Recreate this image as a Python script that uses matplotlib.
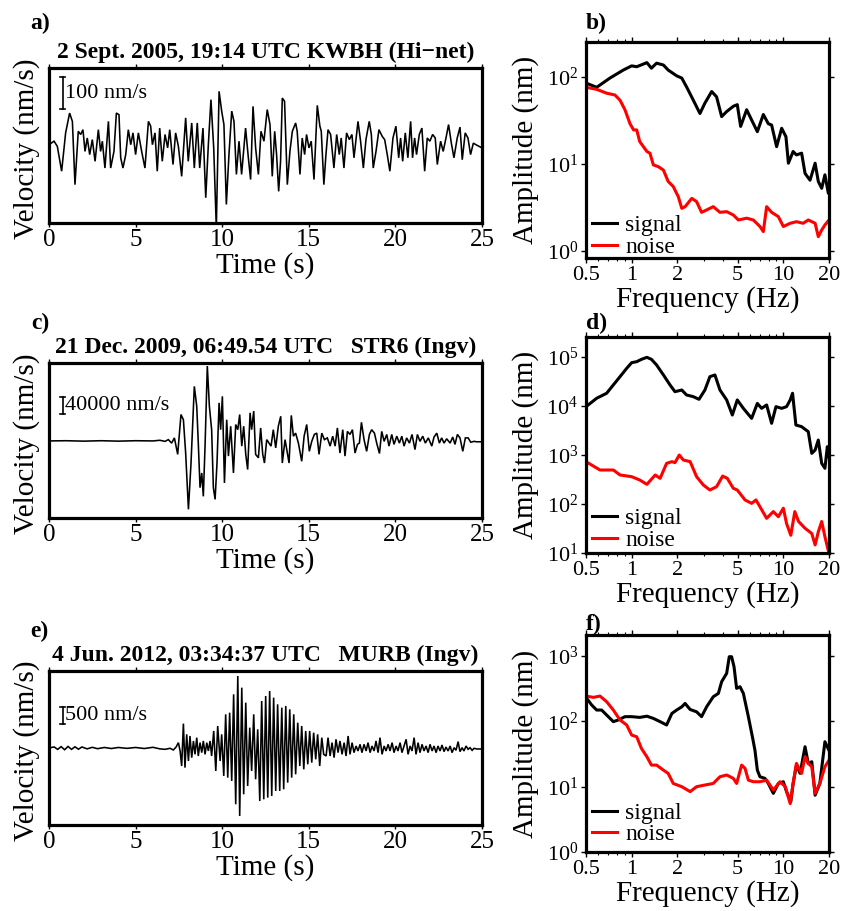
import numpy as np
import matplotlib
matplotlib.use('Agg')
import matplotlib.pyplot as plt
import matplotlib.transforms as mtransforms
from matplotlib.ticker import FixedLocator, FixedFormatter, NullLocator, NullFormatter

plt.rcParams['font.family'] = ['Liberation Serif', 'DejaVu Serif']
plt.rcParams['mathtext.fontset'] = 'custom'
plt.rcParams['mathtext.rm'] = 'Liberation Serif'
plt.rcParams['mathtext.it'] = 'Liberation Serif:italic'
plt.rcParams['mathtext.bf'] = 'Liberation Serif:bold'

# ---------------- seismograms (time s, velocity nm/s) ----------------
a_time = [0.00, 0.29, 0.48, 0.73, 0.96, 1.19, 1.35, 1.50, 1.69, 1.83,
          1.96, 2.08, 2.21, 2.35, 2.50, 2.66, 2.85, 2.98, 3.08, 3.23,
          3.43, 3.56, 3.75, 3.89, 4.04, 4.14, 4.27, 4.43, 4.58, 4.72,
          4.85, 5.00, 5.16, 5.35, 5.54, 5.74, 5.87, 5.97, 6.12, 6.25,
          6.39, 6.54, 6.70, 6.85, 6.97, 7.16, 7.31, 7.47, 7.66, 7.89,
          8.04, 8.24, 8.39, 8.56, 8.70, 8.89, 9.05, 9.20, 9.35, 9.51,
          9.66, 9.82, 9.97, 10.10, 10.24, 10.39, 10.55, 10.68, 10.82, 10.97,
          11.12, 11.35, 11.51, 11.64, 11.78, 11.93, 12.09, 12.24,
          12.41, 12.60, 12.76, 12.89, 13.03, 13.14, 13.26, 13.37, 13.47, 13.60,
          13.76, 13.91, 14.05, 14.24, 14.33, 14.49, 14.62, 14.76, 14.87, 15.01,
          15.14, 15.30, 15.49, 15.64, 15.72, 15.87, 15.99, 16.11, 16.26, 16.45,
          16.61, 16.76, 16.87, 17.03, 17.18, 17.34, 17.49, 17.61, 17.84, 17.99,
          18.15, 18.30, 18.49, 18.61, 18.72, 18.88, 19.05, 19.24, 19.38, 19.53,
          19.68, 19.86, 20.03, 20.19, 20.30, 20.42, 20.57, 20.72, 20.88, 20.99,
          21.11, 21.22, 21.38, 21.53, 21.69, 21.84, 21.99, 22.15, 22.30, 22.42,
          22.61, 22.76, 22.92, 23.07, 23.23, 23.38, 23.57, 23.73, 23.86, 24.03,
          24.19, 24.34, 24.50, 24.65, 24.82, 25.00]
a_vel = [1, 12, -4, -82, 38, 100, 74, -124, 43, 33,
         48, -20, 22, -30, 17, -51, 48, -20, 12, -72,
         74, -72, -20, 100, 95, -40, -72, -30, 48, 1,
         38, -30, 38, -20, -72, 74, 59, 1, 38, -82,
         53, -51, 33, -9, 48, -61, 38, -4, -98, 85,
         -51, 69, -72, 69, -72, 53, -165, 1, 142, -9,
         -260, 168, 106, 64, -186, -30, 106, 74, -92, 12,
         -92, 53, -40, -108, 121, -9, -92, 43,
         12, 111, 64, -98, 43, -30, -145, -51, 147, 137,
         -124, -20, 43, 69, 43, -92, 22, -30, 33, -9,
         12, -108, 124, 59, 43, -124, -30, 48, 33, -72,
         33, -30, 22, -72, 38, 17, 33, -40, 74, 12,
         -72, 17, 74, 33, -72, -20, 48, 27, 17, -30,
         -82, 22, 59, -40, 22, -51, 38, -40, 74, -40,
         22, -30, 33, 53, -82, 22, 12, 33, 22, -61,
         12, -20, 22, 64, 6, -40, 22, 56, -46, 38,
         22, -30, 6, 1, -4, -9]

c_time = [0.0, 1.0, 2.0, 3.0, 4.0, 5.0, 6.0, 6.4,
          6.70, 6.89, 7.08, 7.24, 7.43, 7.62, 7.76, 7.89, 8.05, 8.20,
          8.39, 8.53, 8.62, 8.72, 8.82, 8.91, 9.01, 9.14, 9.26, 9.39,
          9.49, 9.59, 9.70, 9.82, 9.91, 10.01, 10.13, 10.26, 10.36, 10.49,
          10.65, 10.78, 10.90, 11.01, 11.13, 11.24, 11.36, 11.47, 11.61, 11.70,
          11.82, 11.93, 12.09, 12.22, 12.34, 12.44, 12.57, 12.70, 12.82, 12.95,
          13.09, 13.24, 13.38, 13.47, 13.63, 13.76, 13.86, 13.99, 14.11, 14.24,
          14.40, 14.59, 14.73, 14.88, 15.03, 15.17, 15.32, 15.46, 15.59, 15.75,
          15.90, 16.07, 16.23, 16.38, 16.52, 16.65, 16.80, 16.96, 17.09, 17.23,
          17.38, 17.52, 17.67, 17.81, 17.92, 18.04, 18.19, 18.34, 18.50, 18.63,
          18.79, 18.92, 19.08, 19.21, 19.35, 19.50, 19.63, 19.79, 19.92, 20.08,
          20.23, 20.37, 20.50, 20.65, 20.81, 20.96, 21.13, 21.27, 21.42, 21.58,
          21.73, 21.90, 22.10, 22.23, 22.39, 22.54, 22.67, 22.81, 22.96, 23.16,
          23.31, 23.44, 23.58, 23.73, 23.89, 24.04, 24.20, 24.35, 24.54, 24.70,
          25.00]
c_vel_k = [0, 0.5, -0.5, 0.5, -0.5, 0.5, 0, 1.5,
           -1, 3, -5, 7, -31, 61, 49, -28, -158, -51,
           126, 80, -5, -108, -74, -128, -12, 173, 80, 26,
           -108, -135, -51, 88, 26, 103, -97, 49, -35, 34,
           -74, 38, 26, 61, -12, 34, -31, -66, 65, 26,
           69, -31, -39, 30, -31, -51, 3, -5, -12, 26,
           -16, 34, 57, -51, 3, -28, -51, 59, 11, 18,
           -5, -47, 11, 38, -24, -1, 15, 18, -31, 18,
           3, 7, -12, 11, -12, 30, -28, 26, -35, 22,
           15, 26, -28, -8, -5, 43, 3, -24, 15, 26,
           18, -5, -29, 22, -1, 15, -12, 15, -8, 11,
           -5, 11, -12, 7, -5, 15, -20, 15, -1, 11,
           -5, 7, -12, 9, 18, -5, 7, -5, 5, -5,
           9, -8, 15, 7, -24, 7, 7, -3, -1, -2,
           -2]
c_vel = [v * 1000.0 for v in c_vel_k]

e_time = [0.0, 0.3, 0.5, 0.7, 0.9, 1.1, 1.3, 1.5, 1.7, 1.9,
          2.2, 2.5, 2.8, 3.2, 3.6, 4.0, 4.5, 5.0, 5.5, 6.0, 6.4,
          6.70, 6.99, 7.18, 7.34, 7.47, 7.57, 7.66, 7.76, 7.85, 7.95,
          8.05, 8.14, 8.24, 8.34, 8.43, 8.53, 8.62, 8.72, 8.82, 8.91,
          9.01, 9.11, 9.20, 9.30, 9.39, 9.51, 9.63, 9.74, 9.88, 9.97,
          10.09, 10.20, 10.32, 10.43, 10.55, 10.66, 10.78, 10.90, 11.01, 11.13,
          11.24, 11.36, 11.47, 11.59, 11.70, 11.82, 11.93, 12.05, 12.17, 12.28,
          12.40, 12.51, 12.63, 12.74, 12.86, 12.97, 13.09, 13.20, 13.32, 13.44,
          13.55, 13.67, 13.78, 13.90, 14.01, 14.13, 14.24, 14.36, 14.48, 14.59,
          14.71, 14.82, 14.94, 15.05, 15.17, 15.28, 15.40, 15.51, 15.63, 15.75,
          15.86, 16.00, 16.11, 16.23, 16.34, 16.46, 16.57, 16.69, 16.80, 16.92,
          17.04, 17.15, 17.27, 17.38, 17.50, 17.61, 17.73, 17.84, 17.96, 18.07,
          18.19, 18.31, 18.42, 18.54, 18.65, 18.77, 18.88, 19.00, 19.11, 19.23,
          19.35, 19.46, 19.58, 19.69, 19.81, 19.92, 20.04, 20.15, 20.27, 20.38,
          20.50, 20.62, 20.73, 20.85, 20.96, 21.08, 21.19, 21.31, 21.42, 21.54,
          21.65, 21.77, 21.89, 22.00, 22.12, 22.23, 22.35, 22.46, 22.58, 22.69,
          22.81, 22.92, 23.04, 23.16, 23.27, 23.39, 23.50, 23.62, 23.73, 23.85,
          23.96, 24.08, 24.20, 24.31, 24.43, 24.54, 24.70, 25.00]
e_vel = [0, 30, -40, 40, -50, 45, -40, 35, -35, 30,
         -25, 20, -20, 15, -15, 15, -10, 15, -15, 20, -25,
         -38, -9, -57, 29, 155, -86, -520, 704, -568, 395,
         -375, 347, -279, 203, -183, 299, -231, 155, -134, 203,
         -183, 155, -86, 203, -231, 492, -664, 636, -375, 395,
         -808, 973, -857, 1021, -953, 1551, -1627, 2081, -1964, 1744,
         -1338, 1310, -1097, 588, -664, 973, -905, 540, -1531, 1358,
         -1483, 1503, -1434, 1647, -1386, 1455, -1242, 1262, -1242, 1166,
         -1194, 1214, -1001, 1118, -857, 973, -760, 732, -520, 636,
         -616, 492, -471, 492, -423, 443, -327, 395, -520, 299,
         -183, -231, 299, -231, 155, -279, 251, -134, 203, -183,
         155, -231, 347, -183, 155, -134, 58, -86, 106, -134,
         106, -86, 155, -134, 58, -86, 203, -134, 299, -183,
         58, -86, 106, -86, 155, -134, 58, -86, 155, -134,
         58, 251, -183, 58, -86, 299, -183, 155, -134, 106,
         -86, 58, -134, 106, -86, 58, -134, 58, -86, 87,
         -105, 29, -86, 58, -134, 10, -67, 183, -105, 10,
         -86, 58, -38, 10, -67, -9, -28, -28]

seis_titles = ["2 Sept. 2005, 19:14 UTC KWBH (Hi\u2212net)",
               "21 Dec. 2009, 06:49.54 UTC   STR6 (Ingv)",
               "4 Jun. 2012, 03:34:37 UTC   MURB (Ingv)"]
scale_values = [100, 40000, 500]
scale_labels = ["100 nm/s", "40000 nm/s", "500 nm/s"]
seis_ylims = [(-244, 241), (-178000, 180000), (-2225, 2225)]
time_ticks = [0, 5, 10, 15, 20, 25]

# ---------------- spectra (frequency Hz, amplitude nm) ----------------
b_sig_f = [0.500, 0.588, 0.719, 0.881, 1.00, 1.08, 1.26, 1.35, 1.46, 1.62,
           1.74, 1.98, 2.14, 2.30, 2.55, 2.82, 3.04, 3.37, 3.63, 3.92,
           4.23, 4.68, 4.97, 5.23, 5.73, 6.18, 6.74, 7.38, 7.96, 8.37,
           9.03, 9.75, 10.4, 10.8, 11.6, 12.2, 13.2, 13.9, 15.0, 16.2,
           17.0, 17.9, 18.8, 19.8, 20.0]
b_sig_a = [85, 76, 97, 120, 134, 131, 146, 126, 144, 137,
           120, 103, 97, 77, 54, 38, 50, 68, 59, 35,
           40, 46, 48, 27, 42, 32, 23.5, 37, 29, 28,
           15.8, 25.7, 20.6, 10.2, 13.9, 12.7, 13.3, 7.8, 6.5, 10.2,
           6.3, 5.25, 7.5, 4.6, 5.0]
b_noi_f = [0.500, 0.588, 0.684, 0.776, 0.838, 0.903, 0.975, 1.03, 1.08, 1.13,
           1.26, 1.32, 1.39, 1.50, 1.62, 1.74, 1.88, 2.03, 2.14, 2.25,
           2.49, 2.68, 2.89, 3.12, 3.45, 3.82, 4.23, 4.68, 5.05, 5.73,
           6.34, 7.01, 7.38, 7.76, 8.37, 9.27, 10.0, 11.1, 12.2, 13.5,
           14.6, 16.2, 17.0, 17.9, 18.8, 20.0]
b_noi_a = [76, 72, 65, 62, 54, 42, 29, 24.6, 24.6, 18.1,
           13.9, 13.3, 9.75, 9.3, 8.5, 6.3, 5.5, 4.2, 3.09, 3.23,
           4.02, 3.69, 2.78, 2.96, 3.23, 2.78, 2.83, 2.59, 2.27, 2.38,
           2.27, 1.91, 1.67, 3.23, 2.78, 2.48, 1.91, 2.08, 2.17, 2.08,
           2.27, 2.08, 1.46, 1.74, 1.99, 2.27]

d_sig_f = [0.500, 0.588, 0.684, 0.757, 0.838, 0.927, 1.00, 1.08, 1.16, 1.26,
           1.35, 1.46, 1.62, 1.79, 1.93, 2.14, 2.30, 2.55, 2.78, 3.04,
           3.28, 3.54, 3.82, 4.23, 4.61, 4.97, 5.45, 6.18, 6.74, 7.19,
           7.76, 8.37, 8.94, 9.75, 10.5, 11.1, 11.5, 12.1, 13.2, 14.6,
           15.4, 16.2, 17.0, 17.9, 18.8, 19.5, 20.0]
d_sig_a = [9.7e3, 1.44e4, 1.82e4, 2.69e4, 3.97e4, 5.87e4, 7.66e4, 8.03e4, 8.96e4, 9.85e4,
           8.96e4, 6.87e4, 4.30e4, 2.69e4, 1.96e4, 2.12e4, 1.68e4, 1.55e4, 1.37e4, 2.12e4,
           3.97e4, 4.30e4, 2.12e4, 1.33e4, 6.55e3, 1.33e4, 8.96e3, 5.60e3, 1.13e4, 8.96e3,
           1.05e4, 4.43e3, 9.7e3, 8.96e3, 9.7e3, 1.33e4, 1.82e4, 4.09e3, 3.79e3, 2.99e3,
           1.08e3, 1.26e3, 2.02e3, 676, 535, 1.48e3, 925]
d_noi_f = [0.500, 0.618, 0.757, 0.838, 1.00, 1.13, 1.26, 1.43, 1.54, 1.70,
           1.84, 1.93, 2.06, 2.19, 2.43, 2.68, 2.97, 3.28, 3.63, 3.98,
           4.27, 4.68, 4.97, 5.59, 6.18, 6.60, 7.01, 7.76, 8.59, 9.27,
           10.0, 10.5, 11.2, 11.9, 12.6, 13.9, 15.4, 16.2, 17.0, 17.9,
           18.8, 20.0]
d_noi_a = [731, 494, 494, 391, 361, 309, 252, 391, 334, 676,
           731, 698, 1000, 791, 731, 361, 244, 193, 226, 372,
           334, 209, 193, 121, 103, 121, 88, 51, 70, 55,
           82, 40, 23, 70, 44, 32, 25, 14.6, 27, 44,
           21.5, 9.8]

f_sig_f = [0.500, 0.545, 0.588, 0.634, 0.684, 0.757, 0.817, 0.903, 1.00, 1.13,
           1.26, 1.39, 1.54, 1.70, 1.84, 1.98, 2.14, 2.25, 2.43, 2.68,
           2.89, 3.12, 3.45, 3.73, 3.92, 4.23, 4.40, 4.56, 4.73, 4.92,
           5.18, 5.45, 5.88, 6.28, 6.50, 6.74, 7.01, 7.57, 7.96, 8.59,
           9.27, 10.0, 10.5, 11.2, 11.6, 12.2, 12.9, 13.9, 14.6, 15.4,
           16.2, 17.4, 18.8, 20.0]
f_sig_a = [233, 178, 149, 149, 125, 99, 105, 118, 118, 115,
           120, 111, 99, 88, 132, 149, 167, 188, 152, 140,
           118, 167, 238, 268, 405, 543, 977, 977, 687, 320,
           339, 268, 118, 55, 36, 17.9, 14.2, 13.4, 11.2, 7.9,
           11.2, 11.9, 8.4, 5.9, 11.2, 21.4, 16.0, 40.9, 22.7, 24.1,
           7.4, 11.2, 48.8, 36]
f_noi_f = [0.500, 0.559, 0.618, 0.684, 0.757, 0.838, 0.927, 1.00, 1.08, 1.16,
           1.26, 1.35, 1.46, 1.62, 1.74, 1.88, 2.14, 2.43, 2.68, 3.04,
           3.45, 3.82, 4.23, 4.68, 4.92, 5.31, 5.59, 5.88, 6.34, 7.01,
           7.76, 8.59, 9.50, 10.3, 11.1, 11.6, 12.2, 13.2, 13.9, 14.6,
           15.4, 16.2, 17.4, 18.8, 20.0]
f_noi_a = [244, 233, 244, 200, 149, 105, 88, 61.7, 58, 38.5,
           28.7, 21.4, 21.4, 17.9, 16.0, 11.2, 10.0, 8.4, 10.0, 10.6,
           11.2, 14.2, 15.1, 13.4, 11.2, 21.4, 19.1, 12.6, 11.9, 11.9,
           12.6, 8.9, 11.9, 10.0, 5.5, 11.2, 22.7, 16.0, 28.7, 22.7,
           20.2, 7.9, 11.2, 20.2, 25.5]

freq_ticks = [0.5, 1, 2, 5, 10, 20]
freq_labels = ["0.5", "1", "2", "5", "10", "20"]
freq_minor = [0.6, 0.7, 0.8, 0.9, 3, 4, 6, 7, 8, 9]
spec_ylims = [(0.83, 252), (10, 2.56e5), (1, 2100)]
spec_decades = [[0, 1, 2], [1, 2, 3, 4, 5], [0, 1, 2, 3]]
legend_labels = ["signal", "noise"]
panel_letters = ["a)", "b)", "c)", "d)", "e)", "f)"]

# ---------------- figure ----------------
W, H = 846, 911
fig = plt.figure(figsize=(W / 100, H / 100), dpi=100)


def ax_px(x0, y0, x1, y1):
    return fig.add_axes([x0 / W, 1 - y1 / H, (x1 - x0) / W, (y1 - y0) / H])


def seis_panel(box, t, v, ylim, title, sval, slabel, bar_frac):
    ax = ax_px(*box)
    ax.plot(t, v, color='black', lw=1.15, solid_joinstyle='miter')
    ax.set_xlim(0, 25)
    ax.set_ylim(*ylim)
    ax.set_xticks(time_ticks)
    ax.set_xticklabels([str(x) for x in time_ticks])
    ax.set_yticks([])
    ax.tick_params(axis='x', direction='out', top=True, bottom=True,
                   length=3, width=1, labelsize=18, pad=1.5)
    for s in ax.spines.values():
        s.set_linewidth(2.3)
    hpx = box[3] - box[1]
    ax.text(0.5, -50 / hpx, 'Time (s)', transform=ax.transAxes,
            ha='center', va='baseline', fontsize=21)
    ax.text(-0.052, 0.48, 'Velocity (nm/s)', transform=ax.transAxes,
            ha='center', va='center', rotation=90, fontsize=21)
    ax.text(0.5, 1 + 10 / hpx, title, transform=ax.transAxes,
            ha='center', va='baseline', fontsize=17, fontweight='bold')
    trans = mtransforms.blended_transform_factory(ax.transAxes, ax.transData)
    y0 = ylim[0] + bar_frac * (ylim[1] - ylim[0])
    xb = 0.0316
    ax.plot([xb, xb], [y0, y0 + sval], transform=trans, color='black', lw=1.2)
    ax.plot([xb - 0.006, xb + 0.006], [y0, y0], transform=trans, color='black', lw=1.2)
    ax.plot([xb - 0.006, xb + 0.006], [y0 + sval, y0 + sval], transform=trans,
            color='black', lw=1.2)
    ax.text(xb + 0.006, y0 + sval / 2, slabel, transform=trans, ha='left',
            va='center', fontsize=16)
    return ax


def spec_panel(box, sf, sa, nf, na, ylim, decades, leg_anchor):
    ax = ax_px(*box)
    ax.plot(sf, sa, color='black', lw=2.2, label=legend_labels[0])
    ax.plot(nf, na, color='#ff0000', lw=2.2, label=legend_labels[1])
    ax.set_xscale('log')
    ax.set_yscale('log')
    ax.set_xlim(0.5, 20)
    ax.set_ylim(*ylim)
    ax.xaxis.set_major_locator(FixedLocator(freq_ticks))
    ax.xaxis.set_major_formatter(FixedFormatter(freq_labels))
    ax.xaxis.set_minor_locator(FixedLocator(freq_minor))
    ax.xaxis.set_minor_formatter(NullFormatter())
    ax.yaxis.set_major_locator(FixedLocator([10.0 ** d for d in decades]))
    ax.yaxis.set_major_formatter(FixedFormatter([r'$10^{%d}$' % d for d in decades]))
    ax.yaxis.set_minor_locator(NullLocator())
    ax.tick_params(which='major', direction='out', top=True, right=True,
                   length=3.5, width=1, labelsize=16, pad=2)
    ax.tick_params(which='minor', direction='out', top=True, right=True,
                   length=2, width=0.8)
    for s in ax.spines.values():
        s.set_linewidth(2.3)
    hpx = box[3] - box[1]
    wpx = box[2] - box[0]
    ax.text(0.5, -49 / hpx, 'Frequency (Hz)', transform=ax.transAxes,
            ha='center', va='baseline', fontsize=21)
    ax.text(-60 / wpx, 0.5, 'Amplitude (nm)', transform=ax.transAxes,
            ha='center', va='center', rotation=90, fontsize=21)
    ax.legend(loc='lower left', bbox_to_anchor=leg_anchor, frameon=False,
              fontsize=17, handlelength=1.05, handletextpad=0.35,
              labelspacing=0.0, borderpad=0, borderaxespad=0)
    return ax


seis_boxes = [(49, 68, 482, 223), (49, 363, 482, 518), (49, 671, 482, 825)]
spec_boxes = [(586, 42, 829, 258), (586, 337, 829, 553), (586, 635, 829, 852)]
bar_fracs = [0.735, 0.671, 0.656]
leg_anchors = [(0.025, 0.0), (0.025, 0.01), (0.025, 0.03)]

seis_data = [(a_time, a_vel), (c_time, c_vel), (e_time, e_vel)]
spec_data = [(b_sig_f, b_sig_a, b_noi_f, b_noi_a),
             (d_sig_f, d_sig_a, d_noi_f, d_noi_a),
             (f_sig_f, f_sig_a, f_noi_f, f_noi_a)]

for i in range(3):
    t, v = seis_data[i]
    seis_panel(seis_boxes[i], t, v, seis_ylims[i], seis_titles[i],
               scale_values[i], scale_labels[i], bar_fracs[i])
    sf, sa, nf, na = spec_data[i]
    spec_panel(spec_boxes[i], sf, sa, nf, na, spec_ylims[i], spec_decades[i],
               leg_anchors[i])

letter_pos = [(30, 29), (586, 29), (31, 329), (586, 329), (30, 637), (586, 630)]
for lab, (x, y) in zip(panel_letters, letter_pos):
    fig.text(x / W, 1 - y / H, lab, fontsize=17, fontweight='bold',
             ha='left', va='baseline')

fig.savefig('out.png', dpi=100)
